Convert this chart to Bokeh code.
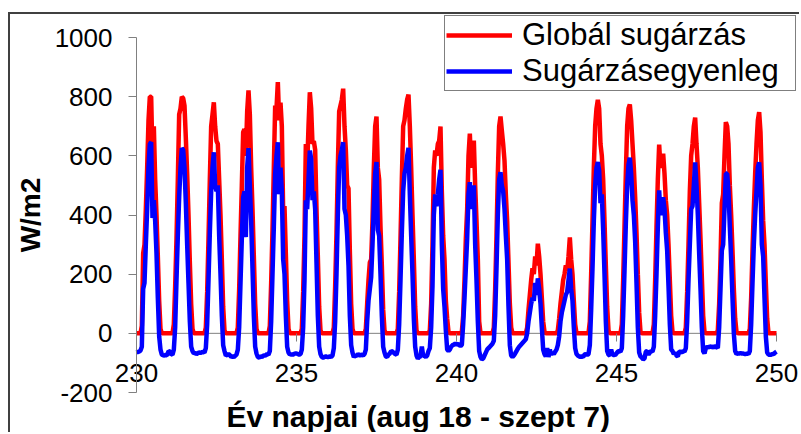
from bokeh.plotting import figure
from bokeh.models import Range1d, Label, Legend, LegendItem, FixedTicker, PrintfTickFormatter
from bokeh.embed import file_html
from bokeh.resources import INLINE

# ---------------- data (hourly values, day of year 230 .. 250) ----------------
start_day = 230
end_day = 250
samples_per_day = 24

series_names = ["Globál sugárzás", "Sugárzásegyenleg"]
x_title = "Év napjai (aug 18 - szept 7)"
y_title = "W/m2"
x_ticks = [230, 235, 240, 245, 250]
y_ticks = [-200, 0, 200, 400, 600, 800, 1000]
y_min, y_max = -200, 1000

global_rad = [
    0, 0, 0, 0, 25, 270, 300, 420, 560, 720, 800, 800, 590, 700, 520, 400, 260, 110, 15, 0, 0, 0, 0, 0,      # 230
    0, 0, 0, 0, 30, 160, 320, 520, 740, 760, 800, 795, 770, 660, 540, 400, 240, 100, 15, 0, 0, 0, 0, 0,     # 231
    0, 0, 0, 0, 20, 140, 320, 520, 700, 740, 781, 700, 650, 640, 520, 400, 250, 90, 10, 0, 0, 0, 0, 0,      # 232
    0, 0, 0, 0, 20, 150, 330, 500, 680, 690, 600, 750, 821, 740, 560, 420, 260, 100, 15, 0, 0, 0, 0, 0,     # 233
    0, 0, 0, 0, 25, 170, 350, 560, 770, 760, 849, 720, 780, 700, 410, 430, 270, 110, 15, 0, 0, 0, 0, 0,     # 234
    0, 0, 0, 0, 15, 140, 330, 640, 560, 700, 815, 760, 640, 650, 620, 420, 260, 90, 10, 0, 0, 0, 0, 0,      # 235
    0, 0, 0, 0, 20, 160, 340, 560, 750, 770, 790, 827, 700, 620, 500, 490, 280, 100, 15, 0, 0, 0, 0, 0,     # 236
    0, 0, 0, 0, 15, 100, 180, 240, 250, 380, 560, 700, 733, 560, 520, 360, 230, 80, 10, 0, 0, 0, 0, 0,      # 237
    0, 0, 0, 0, 15, 140, 320, 520, 700, 720, 760, 790, 807, 700, 560, 400, 250, 90, 10, 0, 0, 0, 0, 0,      # 238
    0, 0, 0, 0, 10, 100, 300, 560, 618, 600, 640, 650, 699, 480, 330, 250, 110, 50, 5, 0, 0, 0, 0, 0,       # 239
    0, 0, 0, 0, 5, 60, 180, 320, 420, 600, 675, 560, 600, 652, 500, 380, 250, 40, 0, 0, 0, 0, 0, 0,         # 240
    0, 0, 0, 0, 20, 150, 330, 540, 700, 733, 686, 640, 584, 470, 380, 240, 100, 20, 0, 0, 0, 0, 0, 0,       # 241
    0, 0, 0, 0, 0, 20, 80, 130, 180, 220, 200, 260, 230, 303, 260, 200, 120, 40, 5, 0, 0, 0, 0, 0,          # 242
    0, 0, 0, 0, 10, 50, 100, 140, 180, 200, 230, 210, 260, 324, 250, 200, 110, 30, 0, 0, 0, 0, 0, 0,        # 243
    0, 0, 0, 0, 40, 200, 380, 560, 700, 760, 789, 760, 640, 600, 520, 380, 230, 90, 10, 0, 0, 0, 0, 0,      # 244
    0, 0, 0, 0, 30, 180, 360, 540, 700, 760, 774, 720, 640, 560, 460, 340, 200, 70, 5, 0, 0, 0, 0, 0,       # 245
    0, 0, 0, 0, 30, 180, 360, 520, 638, 560, 580, 607, 540, 450, 400, 300, 180, 60, 5, 0, 0, 0, 0, 0,       # 246
    0, 0, 0, 0, 20, 140, 300, 480, 600, 640, 700, 729, 640, 560, 440, 320, 190, 60, 5, 0, 0, 0, 0, 0,       # 247
    0, 0, 0, 0, 10, 100, 250, 440, 470, 600, 714, 700, 640, 500, 400, 280, 150, 50, 5, 0, 0, 0, 0, 0,       # 248
    0, 0, 0, 0, 15, 120, 280, 420, 540, 640, 720, 748, 680, 520, 380, 300, 170, 50, 0, 0, 0, 0, 0, 0,       # 249
    0,                                                                                                     # 250
]

net_rad = [
    -65, -63, -62, -58, -45, 150, 170, 300, 420, 560, 640, 646, 390, 450, 380, 270, 120, -10, -55, -72, -74, -75, -73, -74,   # 230
    -60, -62, -70, -72, -55, 20, 180, 330, 460, 560, 626, 620, 560, 440, 300, 170, 40, -45, -60, -68, -66, -70, -67, -65,     # 231
    -66, -64, -63, -65, -50, 30, 180, 340, 480, 560, 612, 500, 480, 500, 330, 200, 60, -40, -60, -75, -73, -70, -74, -80,     # 232
    -78, -80, -76, -72, -55, 20, 170, 320, 460, 480, 325, 560, 626, 500, 380, 220, 60, -45, -68, -80, -82, -78, -80, -76,     # 233
    -75, -74, -70, -72, -60, 40, 200, 360, 540, 600, 646, 470, 560, 480, 250, 200, 60, -45, -65, -72, -70, -73, -70, -68,     # 234
    -68, -70, -72, -70, -55, 20, 180, 450, 420, 520, 618, 590, 450, 480, 420, 240, 60, -45, -70, -80, -82, -80, -78, -80,     # 235
    -80, -78, -80, -75, -50, 40, 200, 400, 560, 600, 620, 646, 420, 400, 330, 230, 60, -40, -65, -80, -75, -77, -70, -74,     # 236
    -74, -72, -75, -70, -55, 40, 110, 150, 190, 300, 430, 540, 579, 350, 330, 200, 60, -45, -65, -78, -80, -72, -68, -60,     # 237
    -62, -66, -70, -72, -55, 30, 180, 340, 480, 540, 560, 600, 627, 470, 330, 200, 50, -45, -75, -85, -80, -78, -45, -76,     # 238
    -76, -80, -75, -60, -50, 20, 160, 400, 470, 430, 470, 520, 553, 300, 150, 90, 10, -55, -60, -55, -45, -40, -38, -35,      # 239
    -38, -35, -40, -42, -40, 30, 120, 220, 320, 470, 511, 420, 460, 500, 300, 180, 40, -60, -80, -88, -85, -75, -65, -55,     # 240
    -50, -45, -40, -35, -25, 60, 220, 400, 520, 545, 500, 480, 420, 330, 250, 90, -40, -75, -80, -75, -68, -60, -52, -45,     # 241
    -40, -35, -30, -25, -20, 0, 40, 70, 100, 120, 110, 170, 130, 186, 150, 100, 20, -55, -70, -78, -50, -80, -55, -72,        # 242
    -65, -70, -62, -55, -40, -10, 40, 70, 90, 110, 130, 140, 180, 219, 150, 110, 20, -50, -70, -75, -78, -80, -78, -80,       # 243
    -72, -70, -73, -70, -40, 80, 220, 380, 500, 560, 579, 550, 440, 470, 350, 200, 40, -60, -72, -75, -55, -73, -72, -74,     # 244
    -68, -62, -60, -62, -50, 60, 210, 370, 500, 570, 594, 540, 450, 400, 310, 170, 20, -65, -78, -82, -88, -85, -62, -60,     # 245
    -72, -65, -60, -62, -45, 60, 200, 360, 483, 400, 420, 460, 420, 340, 280, 160, 30, -55, -60, -70, -65, -75, -78, -62,     # 246
    -62, -65, -60, -62, -50, 40, 180, 300, 420, 430, 500, 578, 500, 400, 270, 150, 20, -60, -68, -50, -45, -48, -44, -46,     # 247
    -45, -48, -42, -45, -50, 20, 150, 280, 300, 420, 540, 540, 480, 360, 250, 120, 0, -60, -70, -68, -68, -67, -68, -68,      # 248
    -70, -70, -68, -70, -60, 30, 170, 300, 400, 480, 560, 578, 500, 300, 260, 120, -10, -65, -72, -72, -72, -70, -70, -65,    # 249
    -62,                                                                                                                     # 250
]

time_axis = [start_day + i / samples_per_day for i in range(len(global_rad))]

# ---------------- layout (pixels, relative to the canvas) ----------------
CANVAS_W, CANVAS_H = 791, 420
AX_LEFT, AX_RIGHT = 126, 766      # pixel of first / last day
AX_TOP, AX_BOTTOM = 23, 378       # pixel of y_max / y_min
dx = (end_day - start_day) / (AX_RIGHT - AX_LEFT)
dy = (y_max - y_min) / (AX_BOTTOM - AX_TOP)
x_lo = start_day - AX_LEFT * dx
x_hi = end_day + (CANVAS_W - AX_RIGHT) * dx
y_hi = y_max + AX_TOP * dy
y_lo = y_min - (CANVAS_H - AX_BOTTOM) * dy

FONT = "Liberation Sans"
AXIS_GRAY = "#808080"

p = figure(width=CANVAS_W, height=CANVAS_H,
           x_range=Range1d(x_lo, x_hi), y_range=Range1d(y_lo, y_hi),
           output_backend="svg", toolbar_location=None,
           min_border_left=0, min_border_right=0,
           min_border_top=0, min_border_bottom=0)
p.outline_line_color = None
p.grid.visible = False
p.background_fill_color = "white"
p.border_fill_color = "white"
p.styles = {"border-top": "2px solid #404040", "border-left": "2px solid #404040",
            "margin-top": "12px", "margin-left": "8px"}

# x axis line at y = 0 (drawn below the data lines)
p.segment(x0=[x_ticks[0]], y0=[0], x1=[x_ticks[-1]], y1=[0],
          line_color=AXIS_GRAY, line_width=1)

r_glob = p.line(time_axis, global_rad, line_color="#FF0000", line_width=4.5)
r_net = p.line(time_axis, net_rad, line_color="#0000FF", line_width=4.5)

# x axis crossing at y = 0
xa = p.xaxis[0]
xa.fixed_location = 0
xa.bounds = (x_ticks[0], x_ticks[-1])
xa.ticker = FixedTicker(ticks=x_ticks)
xa.formatter = PrintfTickFormatter(format="%d")
xa.minor_tick_line_color = None
xa.major_tick_in = 0
xa.major_tick_out = 8
xa.axis_line_color = None
xa.major_tick_line_color = AXIS_GRAY
xa.major_label_text_font = FONT
xa.major_label_text_font_size = "26px"
xa.major_label_text_color = "black"
xa.major_label_standoff = 23

ya = p.yaxis[0]
ya.fixed_location = start_day
ya.bounds = (y_min, y_max)
ya.ticker = FixedTicker(ticks=y_ticks)
ya.formatter = PrintfTickFormatter(format="%d")
ya.minor_tick_line_color = None
ya.major_tick_in = 0
ya.major_tick_out = 8
ya.axis_line_color = AXIS_GRAY
ya.major_tick_line_color = AXIS_GRAY
ya.major_label_text_font = FONT
ya.major_label_text_font_size = "26px"
ya.major_label_text_color = "black"
ya.major_label_standoff = 16
ya.axis_label = y_title
ya.axis_label_text_font = FONT
ya.axis_label_text_font_style = "bold"
ya.axis_label_text_font_size = "28px"
ya.axis_label_text_color = "black"
ya.axis_label_standoff = 6

p.add_layout(Label(x=216, y=18, x_units="screen", y_units="screen", text=x_title,
                   text_font=FONT, text_font_style="bold", text_font_size="30px",
                   text_color="black", text_baseline="alphabetic", text_align="left"))

legend = Legend(items=[LegendItem(label=series_names[0], renderers=[r_glob]),
                       LegendItem(label=series_names[1], renderers=[r_net])],
                location=(434, 343))
legend.border_line_color = "black"
legend.border_line_width = 1
legend.background_fill_color = "white"
legend.background_fill_alpha = 1
legend.padding = 1
legend.spacing = 0
legend.margin = 0
legend.glyph_width = 66
legend.glyph_height = 30
legend.label_height = 30
legend.label_width = 272
legend.label_standoff = 10
legend.label_text_font = FONT
legend.label_text_font_size = "31px"
legend.label_text_color = "black"
legend.label_text_baseline = "middle"
p.add_layout(legend)

open("out.html", "w").write(file_html(p, INLINE))
